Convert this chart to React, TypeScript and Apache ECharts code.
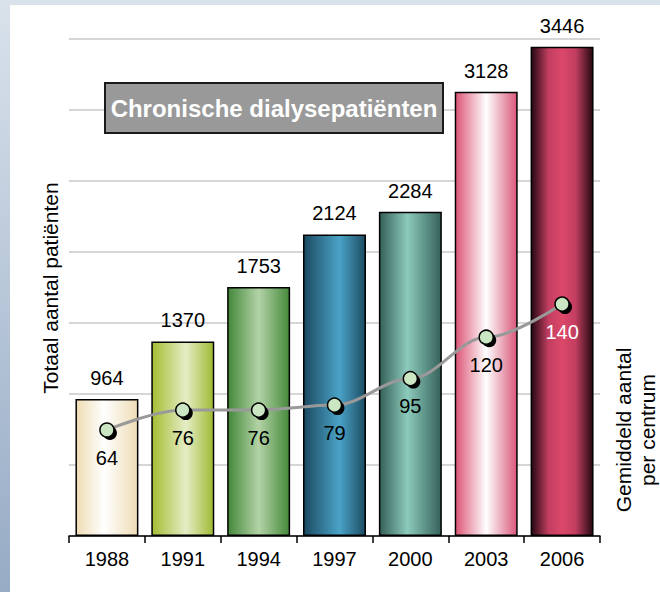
import React, { useEffect, useRef } from "react";
import * as echarts from "echarts";

const years = ["1988", "1991", "1994", "1997", "2000", "2003", "2006"];
const totalPatients = [964, 1370, 1753, 2124, 2284, 3128, 3446];
const perCentre = [64, 76, 76, 79, 95, 120, 140];

const titleText = "Chronische dialysepatiënten";
const leftAxisName = "Totaal aantal patiënten";
const rightAxisName = "Gemiddeld aantal\nper centrum";

// horizontal gradient stops per bar: [offset, color]
const barStops: [number, string][][] = [
  [[0, "#efdcb2"], [0.45, "#ffffff"], [1, "#eedcb4"]],
  [[0, "#a3bd33"], [0.55, "#e5edc6"], [1, "#9fba33"]],
  [[0, "#44873a"], [0.5, "#b3d3a6"], [1, "#46893b"]],
  [[0, "#1b4a61"], [0.58, "#4aa3c7"], [1, "#1d4c63"]],
  [[0, "#355f59"], [0.45, "#8ccbbb"], [1, "#36625b"]],
  [[0, "#dc5676"], [0.5, "#ffffff"], [1, "#d9587a"]],
  [[0, "#240810"], [0.28, "#c23e61"], [0.5, "#dc4869"], [0.72, "#c23e61"], [1, "#240810"]],
];

const FONT = 'Arial, "Liberation Sans", sans-serif';

export default function App() {
  const ref = useRef<HTMLDivElement>(null);
  useEffect(() => {
    if (!ref.current) return;
    const chart = echarts.init(ref.current, null, { renderer: "svg" });
    const grad = (stops: [number, string][]) =>
      new echarts.graphic.LinearGradient(
        0, 0, 1, 0,
        stops.map(([offset, color]) => ({ offset, color }))
      );
    chart.setOption({
      animation: false,
      grid: { left: 59, right: 60, top: 34, bottom: 56 },
      xAxis: {
        type: "category",
        data: years,
        boundaryGap: true,
        axisLine: { show: true, lineStyle: { color: "#000", width: 1.5 } },
        axisTick: { show: true, length: 7, lineStyle: { color: "#000", width: 1.5 } },
        axisLabel: { color: "#000", fontSize: 20, fontFamily: FONT, margin: 13 },
      },
      yAxis: [
        {
          type: "value",
          min: 0,
          max: 3500,
          interval: 500,
          axisLine: { show: false },
          axisTick: { show: false },
          axisLabel: { show: false },
          splitLine: { show: true, lineStyle: { color: "#c8c8c8", width: 1.5 } },
        },
        {
          type: "value",
          min: 0,
          max: 300,
          axisLine: { show: false },
          axisTick: { show: false },
          axisLabel: { show: false },
          splitLine: { show: false },
        },
      ],
      series: [
        {
          type: "bar",
          yAxisIndex: 0,
          barCategoryGap: "17%",
          data: totalPatients.map((v, i) => ({
            value: v,
            itemStyle: { color: grad(barStops[i]) },
          })),
          itemStyle: { borderColor: "#000", borderWidth: 1.5 },
          label: {
            show: true,
            position: "top",
            distance: 11,
            color: "#000",
            fontSize: 20,
            fontFamily: FONT,
          },
          z: 2,
        },
        {
          type: "line",
          yAxisIndex: 1,
          data: perCentre,
          smooth: 0.35,
          smoothMonotone: "x",
          showSymbol: false,
          lineStyle: { color: "#999999", width: 3 },
          z: 3,
        },
        {
          type: "scatter",
          yAxisIndex: 1,
          data: perCentre,
          symbol: "circle",
          symbolSize: 14,
          symbolOffset: [3, 3],
          itemStyle: { color: "#000", opacity: 1 },
          z: 4,
        },
        {
          type: "scatter",
          yAxisIndex: 1,
          data: perCentre.map((v, i) => ({
            value: v,
            label: { color: i === perCentre.length - 1 ? "#ffffff" : "#000000" },
          })),
          symbol: "circle",
          symbolSize: 14,
          itemStyle: { color: "#cbe6c3", borderColor: "#000", borderWidth: 1.5, opacity: 1 },
          label: {
            show: true,
            position: "bottom",
            distance: 10,
            fontSize: 20,
            fontFamily: FONT,
          },
          z: 5,
        },
      ],
      graphic: [
        {
          type: "rect",
          shape: { x: 95, y: 78, width: 338, height: 50 },
          style: { fill: "#999999", stroke: "#1a1a1a", lineWidth: 2 },
          z: 10,
        },
        {
          type: "text",
          x: 264,
          y: 103,
          style: {
            text: titleText,
            fill: "#ffffff",
            font: `bold 24px ${FONT}`,
            textAlign: "center",
            textVerticalAlign: "middle",
          },
          z: 11,
        },
        {
          type: "text",
          x: 40,
          y: 283,
          rotation: Math.PI / 2,
          style: {
            text: leftAxisName,
            fill: "#000",
            font: `21px ${FONT}`,
            textAlign: "center",
            textVerticalAlign: "middle",
          },
        },
        {
          type: "text",
          x: 625,
          y: 425,
          rotation: Math.PI / 2,
          style: {
            text: rightAxisName,
            fill: "#000",
            font: `21px ${FONT}`,
            lineHeight: 24,
            textAlign: "center",
            textVerticalAlign: "middle",
          },
        },
      ],
    });
    return () => chart.dispose();
  }, []);

  return (
    <div
      style={{
        position: "fixed",
        left: 0,
        top: 0,
        width: 660,
        height: 592,
        background: "linear-gradient(to bottom, #d9e2eb, #96abc5)",
      }}
    >
      <div
        ref={ref}
        style={{
          position: "absolute",
          left: 10,
          top: 5,
          width: 650,
          height: 587,
          background: "#ffffff",
        }}
      />
    </div>
  );
}
